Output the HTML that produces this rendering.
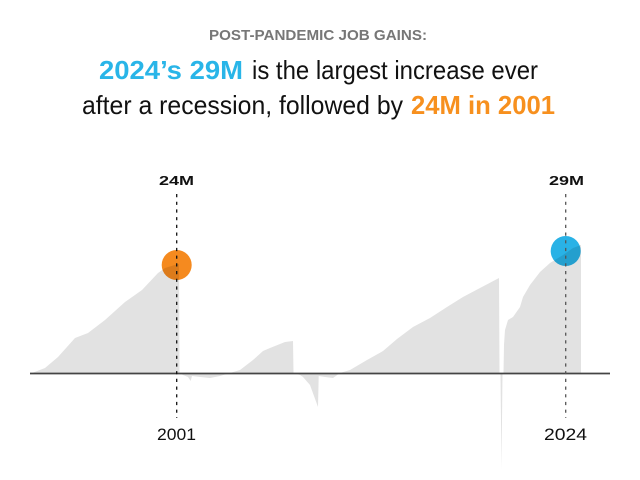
<!DOCTYPE html>
<html>
<head>
<meta charset="utf-8">
<style>
  html,body{margin:0;padding:0;background:#fff;}
  svg{display:block;}
  text{font-family:"Liberation Sans", Arial, sans-serif;}
</style>
</head>
<body>
<svg width="640" height="480" viewBox="0 0 640 480" xmlns="http://www.w3.org/2000/svg">
  <rect width="640" height="480" fill="#fff"/>

  <!-- Titles -->
  <text x="209" y="40" font-size="15" font-weight="bold" fill="#777" textLength="218" lengthAdjust="spacingAndGlyphs">POST-PANDEMIC JOB GAINS:</text>

  <text x="99" y="79" font-size="26" font-weight="bold" fill="#29b5e8" textLength="144" lengthAdjust="spacingAndGlyphs">2024’s 29M</text>
  <text x="252" y="79" font-size="26" fill="#111" textLength="286" lengthAdjust="spacingAndGlyphs">is the largest increase ever</text>

  <text x="82" y="114" font-size="26" fill="#111" textLength="321" lengthAdjust="spacingAndGlyphs">after a recession, followed by</text>
  <text x="411" y="114" font-size="26" font-weight="bold" fill="#f7901e" textLength="144" lengthAdjust="spacingAndGlyphs">24M in 2001</text>

  <defs>
    <path id="area" d="M32,373 L45,368 L58,357 L75,338 L88,333 L105,320 L125,302 L142,290 L158,273 L165,268 L178,264 L179,264 L179.5,373
      L183,375 L188,377 L190.7,381 L192,376 L200,377 L210,378 L220,376 L230,373
      L240,370 L253,360 L263,351 L270,348 L280,344 L285,342 L293,341 L293.5,373
      L300,375 L303,377 L310,385 L318,407 L318.7,376 L325,377 L333,378 L340,373
      L350,370 L367,360 L383,351 L397,339 L413,327 L430,318 L447,307 L463,297 L480,288 L499,278 L499.5,373
      L500.5,373 L501.5,470 L502.5,373
      L503.5,373 L504,345 L505,330 L508,320 L513,317 L520,307 L523,297 L530,285 L540,272 L550,263 L563,255 L573,248 L581,245 L581,373 Z"/>
    <clipPath id="c1"><circle cx="176.7" cy="265" r="15"/></clipPath>
    <clipPath id="c2"><circle cx="565.7" cy="251" r="15"/></clipPath>
  </defs>

  <use href="#area" fill="#e2e2e2"/>

  <!-- Dots -->
  <circle cx="176.7" cy="265" r="15" fill="#f58a1f"/>
  <circle cx="565.7" cy="251" r="15" fill="#29b2e6"/>
  <use href="#area" fill="#000" fill-opacity="0.1" clip-path="url(#c1)"/>
  <use href="#area" fill="#000" fill-opacity="0.1" clip-path="url(#c2)"/>

  <!-- Axis -->
  <line x1="30" y1="373.5" x2="610" y2="373.5" stroke="#444" stroke-width="1.8"/>

  <!-- Dashed markers -->
  <line x1="176.7" y1="194" x2="176.7" y2="418" stroke="#111" stroke-width="1.3" stroke-dasharray="3.2,4.5"/>
  <line x1="565.7" y1="194" x2="565.7" y2="418" stroke="#555" stroke-width="1.3" stroke-dasharray="3.2,4.5"/>

  <!-- Labels -->
  <text x="159" y="185" font-size="13" font-weight="bold" fill="#111" textLength="35" lengthAdjust="spacingAndGlyphs">24M</text>
  <text x="549" y="185" font-size="13" font-weight="bold" fill="#111" textLength="35" lengthAdjust="spacingAndGlyphs">29M</text>
  <text x="157" y="440" font-size="17" fill="#111" textLength="39" lengthAdjust="spacingAndGlyphs">2001</text>
  <text x="544" y="440" font-size="17" fill="#111" textLength="43" lengthAdjust="spacingAndGlyphs">2024</text>
</svg>
</body>
</html>
